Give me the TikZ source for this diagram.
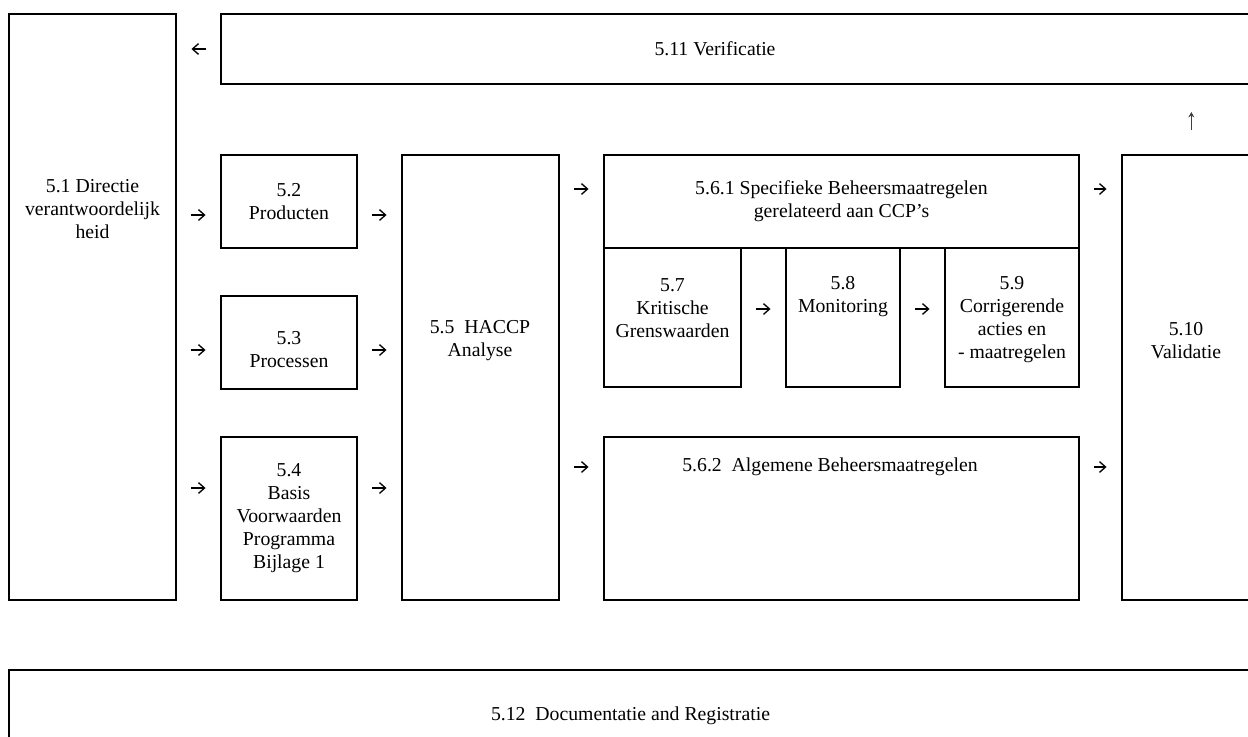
\documentclass[tikz,border=0pt]{standalone}
\usepackage{fontspec}
\setmainfont{Liberation Serif}
\usetikzlibrary{arrows.meta,positioning}

\begin{document}
\begin{tikzpicture}[x=0.75pt,y=-0.75pt,node distance=36pt and 33.75pt,
    frame/.style={rectangle,draw,line width=1.4pt,inner sep=0pt,outer sep=0pt,anchor=north west,align=center,font=\fontsize{14.8pt}{17.25pt}\selectfont},
    txt/.style={align=center,inner sep=0pt,font=\fontsize{14.8pt}{17.25pt}\selectfont},
    arr/.style={-{Straight Barb[length=4.5pt,width=8pt]},line width=1pt,shorten <=11.6pt,shorten >=11.6pt}]
    \useasboundingbox (0,0) rectangle (1248,736);

    % Left column and verification
    \node[frame,minimum width=125.25pt,minimum height=439.5pt] (b51) at (9,14) {};
    \node[frame,minimum width=787.5pt,minimum height=52.5pt] (verif) at (221,14) {};

    % Inputs
    \node[frame,minimum width=102pt,minimum height=69.75pt] (b52) at (221,155) {5.2\\Producten};
    \node[frame,minimum width=102pt,minimum height=69.75pt,below=of b52] (b53) {};
    \node[frame,minimum width=102pt,minimum height=122.25pt,below=of b53] (b54) {5.4\\Basis\\Voorwaarden\\Programma\\Bijlage 1};

    % HACCP and control measures
    \node[frame,minimum width=117.75pt,minimum height=333.75pt,right=of b52.north east,anchor=north west] (b55) {};
    \node[frame,minimum width=356.25pt,minimum height=69.75pt,right=of b55.north east,anchor=north west] (b561) {5.6.1 Specifieke Beheersmaatregelen\\gerelateerd aan CCP’s};
    \node[frame,minimum width=102.75pt,minimum height=104.25pt] (b57) at (b561.south west) {};
    \node[frame,minimum width=85.5pt,minimum height=104.25pt,right=of b57.north east,anchor=north west] (b58) {};
    \node[frame,minimum width=100.5pt,minimum height=104.25pt,right=of b58.north east,anchor=north west] (b59) {};
    \node[frame,minimum width=356.25pt,minimum height=122.25pt] (b562) at (604,437) {};
    \node[frame,minimum width=96pt,minimum height=333.75pt,right=32.25pt of b561.north east,anchor=north west] (b510) {};

    % Documentation
    \node[frame,minimum width=932.25pt,minimum height=69pt] (b512) at (9,670) {5.12\ \ Documentatie and Registratie};

    % Texts
    \node[txt] (t51) at (92.5,209) {5.1 Directie\\verantwoordelijk\\heid};
    \node[txt] (t511) at (715,49) {5.11 Verificatie};
    \node[txt] (t53) at (289,350) {5.3\\Processen};
    \node[txt] (t55) at (480,341) {5.5\ \ HACCP\\Analyse};
    \node[txt] (t57) at (672.5,308.5) {5.7\\Kritische\\Grenswaarden};
    \node[txt] (t58) at (843,297) {5.8\\Monitoring};
    \node[txt] (t59) at (1012,320) {5.9\\Corrigerende\\acties en\\- maatregelen};
    \node[txt] (t562) at (830,467) {5.6.2\ \ Algemene Beheersmaatregelen};
    \node[txt] (t510) at (1186,341) {5.10\\Validatie};

    % Flow arrows
    \draw[arr] (verif.west |- t511) -- (b51.east |- t511);
    \draw[arr] (b51.east |- 0,215) -- (b52.west |- 0,215);
    \draw[arr] (b52.east |- 0,215) -- (b55.west |- 0,215);
    \draw[arr] (b51.east |- t53) -- (b53.west |- t53);
    \draw[arr] (b53.east |- t53) -- (b55.west |- t53);
    \draw[arr] (b51.east |- 0,488) -- (b54.west |- 0,488);
    \draw[arr] (b54.east |- 0,488) -- (b55.west |- 0,488);
    \draw[arr] (b55.east |- 0,189) -- (b561.west |- 0,189);
    \draw[arr] (b561.east |- 0,189) -- (b510.west |- 0,189);
    \draw[arr] (b55.east |- t562) -- (b562.west |- t562);
    \draw[arr] (b562.east |- t562) -- (b510.west |- t562);
    \draw[arr] (b57.east |- 0,309) -- (b58.west |- 0,309);
    \draw[arr] (b58.east |- 0,309) -- (b59.west |- 0,309);
    \draw[arr,-{Stealth[length=4pt,width=4.5pt]},black!75,shorten <=18.75pt,shorten >=21pt] ([xshift=4pt]b510.north) -- ([xshift=4pt]verif.south -| b510.north);
\end{tikzpicture}
\end{document}
